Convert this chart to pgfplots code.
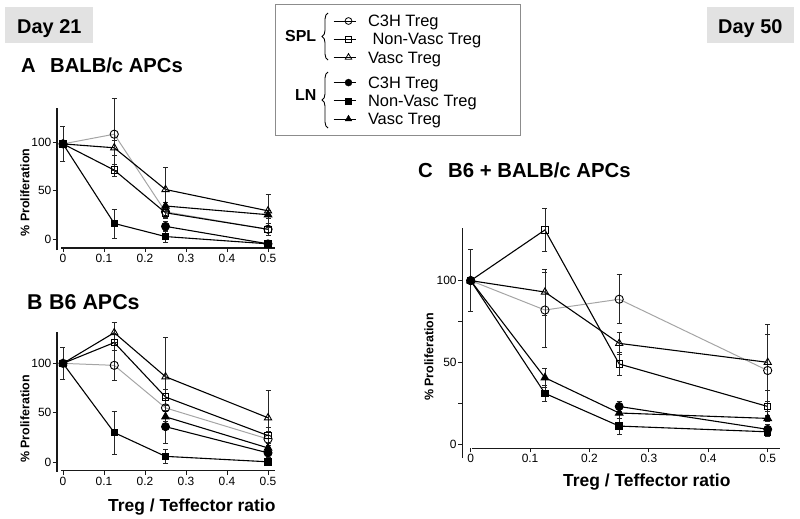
\documentclass[border=0pt]{standalone}
\usepackage{pgfplots}
\pgfplotsset{compat=1.18}
\usepackage{fontspec}
\setmainfont{Liberation Sans}
\usetikzlibrary{decorations.pathreplacing}
\definecolor{daybox}{RGB}{226,226,226}
\definecolor{splgray}{RGB}{165,165,165}
\definecolor{boxgray}{RGB}{140,140,140}
\newcommand{\fs}[1]{\fontsize{#1}{#1}\selectfont}

\pgfplotsset{
  panel/.style={scale only axis, axis lines=left, separate axis lines,
    axis line style={-, black!90, line width=1.1pt},
    tick align=outside, major tick length=4bp, minor tick length=4bp,
    tick style={black!90, line width=0.9pt},
    xtick={0,0.1,0.2,0.3,0.4,0.5}, xticklabels={0,0.1,0.2,0.3,0.4,0.5},
    ytick={0,50,100}, yticklabels={0,50,100},
    tick label style={font=\fs{12}},
    xticklabel style={inner sep=1bp, yshift=-1bp},
    yticklabel style={inner sep=1.5bp},
    unbounded coords=jump, clip=false,
    /pgf/number format/assume math mode=true},
  eb/.style={error bars/y dir=both, error bars/y explicit,
    error bars/error bar style={black!85, line width=0.7pt},
    error bars/error mark options={rotate=90, mark size=2.5bp, black!85, line width=0.7pt}},
  sC/.style={splgray, line width=1pt, mark=o, mark size=4.1bp,
    mark options={solid, draw=black, fill=white, line width=0.9pt}},
  sNV/.style={black, line width=1.1pt, mark=square, mark size=3.2bp,
    mark options={fill=white, line width=0.9pt}},
  sV/.style={black, line width=1.1pt, mark=triangle, mark size=4.2bp,
    mark options={fill=white, line width=0.9pt}},
  lC/.style={black, line width=1.1pt, mark=*, mark size=3.9bp},
  lNV/.style={black, line width=1.1pt, mark=square*, mark size=3.2bp},
  lV/.style={black, line width=1.1pt, mark=triangle*, mark size=4.2bp},
  legax/.style={hide axis, scale only axis, width=40bp, height=40bp,
    xmin=0, xmax=1, ymin=0, ymax=1,
    legend style={at={(0,1)}, anchor=north west, draw=none, fill=none,
      inner sep=0pt, outer sep=0pt, row sep=0pt, font=\fs{16.5},
      nodes={inner sep=0pt, outer sep=0pt, text height=13.5bp, text depth=4.7bp},
      /tikz/every odd column/.style={column sep=12bp}},
    legend cell align=left,
    legend image code/.code={\draw[##1, line width=1pt] (0bp,1.3bp) -- (22bp,1.3bp);
      \draw[##1] plot coordinates {(15bp,1.3bp)};}},
}

\begin{document}
\begin{tikzpicture}
\path[use as bounding box] (0,0) rectangle (800bp,-519bp);

% Day boxes
\fill[daybox] (5bp,-7bp) rectangle (93bp,-43bp);
\node[anchor=base west, inner sep=0, font=\fs{20}\bfseries] at (17bp,-33.3bp) {Day 21};
\fill[daybox] (707bp,-7bp) rectangle (794bp,-43bp);
\node[anchor=base west, inner sep=0, font=\fs{20}\bfseries] at (718bp,-33.3bp) {Day 50};

% Legend box
\draw[boxgray, line width=0.9pt] (275bp,-4bp) rectangle (520bp,-135bp);
\node[anchor=base west, inner sep=0, font=\fs{16}\bfseries] at (285bp,-41.7bp) {SPL};
\node[anchor=base west, inner sep=0, font=\fs{16}\bfseries] at (295bp,-100bp) {LN};
\draw[black, line width=0.9pt, decorate, decoration={brace, amplitude=6bp}] (328bp,-60bp) -- (328bp,-13bp);
\draw[black, line width=0.9pt, decorate, decoration={brace, amplitude=6bp}] (328bp,-128bp) -- (328bp,-72bp);

\begin{axis}[legax, at={(333bp,-13.2bp)}, anchor=north west]
\addlegendimage{black, mark=o, mark size=3.4bp, mark options={fill=white, line width=0.8pt}}
\addlegendentry{C3H Treg}
\addlegendimage{black, mark=square, mark size=3bp, mark options={fill=white, line width=0.8pt}}
\addlegendentry{\ Non-Vasc Treg}
\addlegendimage{black, mark=triangle, mark size=3.8bp, mark options={fill=white, line width=0.8pt}}
\addlegendentry{Vasc Treg}
\end{axis}
\begin{axis}[legax, at={(333bp,-74.8bp)}, anchor=north west]
\addlegendimage{black, mark=*, mark size=3.5bp}
\addlegendentry{C3H Treg}
\addlegendimage{black, mark=square*, mark size=3bp}
\addlegendentry{Non-Vasc Treg}
\addlegendimage{black, mark=triangle*, mark size=3.8bp}
\addlegendentry{Vasc Treg}
\end{axis}

% Titles and labels
\node[anchor=base west, inner sep=0, font=\fs{20.3}\bfseries] at (21bp,-72.7bp) {A};
\node[anchor=base west, inner sep=0, font=\fs{20.3}\bfseries] at (50bp,-72.7bp) {BALB/c APCs};
\node[anchor=base west, inner sep=0, font=\fs{21.5}\bfseries] at (27bp,-309.3bp) {B};
\node[anchor=base west, inner sep=0, font=\fs{21.5}\bfseries] at (49bp,-309.3bp) {B6 APCs};
\node[anchor=base west, inner sep=0, font=\fs{20.4}\bfseries] at (418bp,-177.3bp) {C};
\node[anchor=base west, inner sep=0, font=\fs{20.4}\bfseries] at (448bp,-177.3bp) {B6 + BALB/c APCs};

\node[rotate=90, inner sep=0, font=\fs{12.5}\bfseries] at (25bp,-192.5bp) {\% Proliferation};
\node[rotate=90, inner sep=0, font=\fs{12.5}\bfseries] at (25bp,-419bp) {\% Proliferation};
\node[rotate=90, inner sep=0, font=\fs{12.5}\bfseries] at (429bp,-357bp) {\% Proliferation};

\node[anchor=base west, inner sep=0, font=\fs{17.5}\bfseries] at (108bp,-511.7bp) {Treg / Teffector ratio};
\node[anchor=base west, inner sep=0, font=\fs{17.5}\bfseries] at (563bp,-486.7bp) {Treg / Teffector ratio};

% Panel A
\begin{axis}[panel, at={(57bp,-248bp)}, anchor=south west, width=218bp, height=140bp,
  xmin=-0.0146, xmax=0.517, ymin=-9.3, ymax=135,
  x axis line style={shorten <=4bp}, y axis line style={shorten <=-2bp}]
\addplot[lC, eb] table[x=x, y=y, y error=e] {
x y e
0.25 13 5
0.5 -5 3
};
\addplot[lV, eb] table[x=x, y=y, y error=e] {
x y e
0.25 34 4
0.5 25 4
};
\addplot[lNV, eb] table[x=x, y=y, y error=e] {
x y e
0 98 0
0.125 16 15
0.25 2.5 6
0.5 -5 3
};
\addplot[sC, eb] table[x=x, y=y, y error=e] {
x y e
0 98 0
0.125 108 37
0.25 28 6
0.5 10 6
};
\addplot[sV, eb] table[x=x, y=y, y error=e] {
x y e
0 98 0
0.125 94 8
0.25 51 23
0.5 29 17
};
\addplot[sNV, eb] table[x=x, y=y, y error=e] {
x y e
0 98 18
0.125 71 6
0.25 27 6
0.5 10 6
};
\end{axis}

% Panel B
\begin{axis}[panel, at={(57bp,-470.7bp)}, anchor=south west, width=218bp, height=139bp,
  xmin=-0.0146, xmax=0.517, ymin=-8.5, ymax=132,
  x axis line style={shorten <=4bp}, y axis line style={shorten <=-1bp}]
\addplot[lC, eb] table[x=x, y=y, y error=e] {
x y e
0.25 36 17
0.5 9.5 5
};
\addplot[lV, eb] table[x=x, y=y, y error=e] {
x y e
0.25 46 5
0.5 14.5 5
};
\addplot[lNV, eb] table[x=x, y=y, y error=e] {
x y e
0 100 0
0.125 30 22
0.25 6 7
0.5 0.5 2
};
\addplot[sV, eb] table[x=x, y=y, y error=e] {
x y e
0 100 0
0.125 131 10
0.25 86.5 40
0.5 45 28
};
\addplot[sNV, eb] table[x=x, y=y, y error=e] {
x y e
0 100 0
0.125 121 8
0.25 66 8
0.5 27 8
};
\addplot[sC, eb] table[x=x, y=y, y error=e] {
x y e
0 100 16
0.125 98 15
0.25 55 10
0.5 23.5 8
};
\end{axis}

% Panel C
\begin{axis}[panel, at={(462.3bp,-448.3bp)}, anchor=south west, width=317.7bp, height=220bp,
  xmin=-0.0141, xmax=0.5207, ymin=-2.6, ymax=132, minor ytick={25,75},
  x axis line style={shorten <=9.4bp}, y axis line style={shorten <=-9.7bp}]
\addplot[sC, eb] table[x=x, y=y, y error=e] {
x y e
0 100 0
0.125 82 23
0.25 88.6 15
0.5 45 28
};
\addplot[sNV, eb] table[x=x, y=y, y error=e] {
x y e
0 100 0
0.125 131 13
0.25 49 7
0.5 23 3
};
\addplot[sV, eb] table[x=x, y=y, y error=e] {
x y e
0 100 0
0.125 93 14
0.25 61.6 7
0.5 50 17
};
\addplot[lNV, eb] table[x=x, y=y, y error=e] {
x y e
0 100 0
0.125 31 5
0.25 11 5
0.5 7.5 3
};
\addplot[lV, eb] table[x=x, y=y, y error=e] {
x y e
0 100 0
0.125 40.6 6
0.25 19 3
0.5 15.7 2
};
\addplot[lC, eb] table[x=x, y=y, y error=e] {
x y e
0 100 19
0.125 nan 0
0.25 23 3
0.5 9 3
};
\end{axis}
\end{tikzpicture}
\end{document}
